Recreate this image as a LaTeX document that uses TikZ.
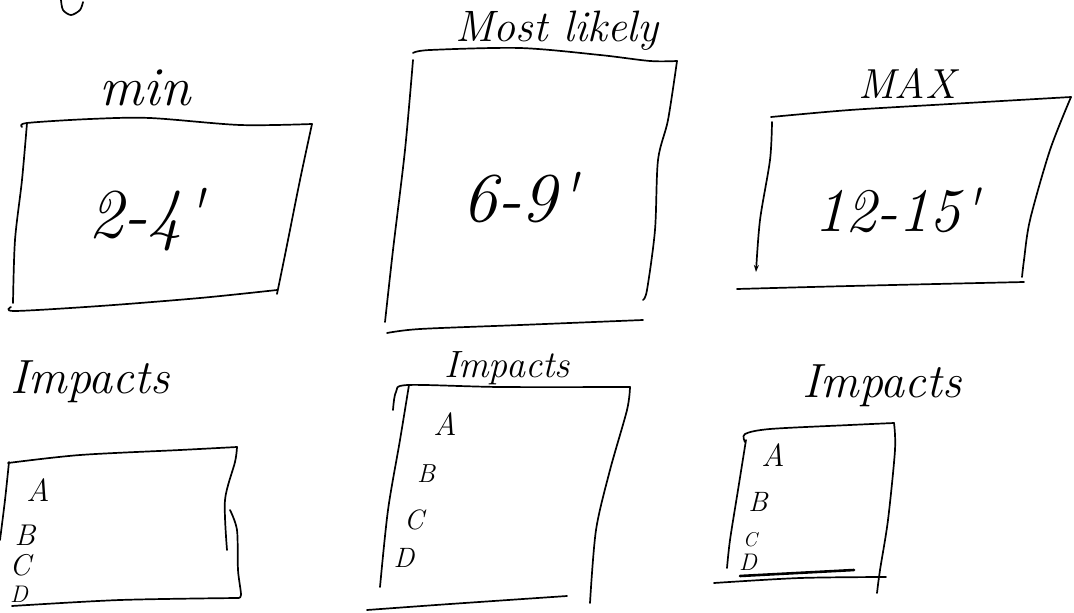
\documentclass[tikz,border=0pt]{standalone}
\usetikzlibrary{arrows.meta}
\tikzset{
  pen/.style={line width=1.7pt, line cap=round, line join=round, black},
  hand/.style={inner sep=0pt, font=\itshape},
}
\newcommand{\myprime}{\textquotesingle}
\begin{document}
\begin{tikzpicture}[x=1pt,y=-1pt]
\clip (0,0) rectangle (1074,613);
\fill[white] (0,0) rectangle (1074,613);
% fragment at top left
\draw[pen] plot[smooth] coordinates {(61,0)(63,10)(71,15)(80,10)(83,2)};
% ---------- box 1: min ----------
\node[hand, font=\itshape\fontsize{55}{55}\selectfont] (tmin) at (145,88) {min};
\draw[pen] plot[smooth] coordinates {(22,127)(27,123)(90,119)(150,118)(240,125)(312,124)};
\draw[pen] plot[smooth] coordinates {(312,124)(300,180)(286,250)(277,294)};
\draw[pen] plot[smooth] coordinates {(277,290)(200,298)(100,306)(15,311)(11,307)};
\draw[pen] plot[smooth] coordinates {(27,123)(22,180)(15,240)(13,303)};
\node[hand, font=\itshape\fontsize{70}{70}\selectfont] (vmin) at (146,220) {2-4\myprime};
% ---------- box 2: Most likely ----------
\node[hand, font=\itshape\fontsize{44}{44}\selectfont] (tml) at (557,31) {Most likely};
\draw[pen] plot[smooth] coordinates {(413,53)(430,50)(520,48)(600,55)(650,61)(677,61)};
\draw[pen] plot[smooth] coordinates {(677,61)(668,120)(658,160)(655,230)(647,290)(643,300)};
\draw[pen] plot[smooth] coordinates {(413,60)(405,150)(393,250)(385,322)};
\draw[pen] plot[smooth] coordinates {(387,333)(420,329)(520,325)(643,320)};
\node[hand, font=\itshape\fontsize{70}{70}\selectfont] (vml) at (520,198) {6-9\myprime};
% ---------- box 3: MAX ----------
\node[hand, font=\itshape\fontsize{42}{42}\selectfont] (tmax) at (907,84) {MAX};
\draw[pen] plot[smooth] coordinates {(771,117)(850,110)(950,104)(1071,97)};
\draw[pen] plot[smooth] coordinates {(1071,97)(1050,150)(1030,220)(1024,260)(1022,277)};
\draw[pen, -{Stealth[length=7pt,width=5pt]}] plot[smooth] coordinates {(772,122)(770,160)(760,220)(756,272)};
\draw[pen] plot[smooth] coordinates {(737,289)(850,286)(1024,282)};
\node[hand, font=\itshape\fontsize{62}{62}\selectfont] (vmax) at (897,210) {12-15\myprime};
% ---------- impacts 1 ----------
\node[hand, font=\itshape\fontsize{48}{48}\selectfont] (ti1) at (90,382) {Impacts};
\draw[pen] plot[smooth] coordinates {(8,463)(80,455)(180,450)(237,447)};
\draw[pen] plot[smooth] coordinates {(237,447)(235,462)(225,500)(227,550)};
\draw[pen] plot[smooth] coordinates {(230,510)(237,530)(238,570)(241,595)(237,598)};
\draw[pen] plot[smooth] coordinates {(237,598)(120,600)(12,606)};
\draw[pen] plot[smooth] coordinates {(9,462)(5,500)(0,540)};
\node[hand, font=\itshape\fontsize{32}{32}\selectfont] (a1) at (38,490) {A};
\node[hand, font=\itshape\fontsize{30}{30}\selectfont] (b1) at (25,535) {B};
\node[hand, font=\itshape\fontsize{30}{30}\selectfont] (c1) at (20,565) {C};
\node[hand, font=\itshape\fontsize{24}{24}\selectfont] (d1) at (19,594) {D};
% ---------- impacts 2 ----------
\node[hand, font=\itshape\fontsize{38}{38}\selectfont] (ti2) at (507,368) {Impacts};
\draw[pen] plot[smooth] coordinates {(393,410)(396,392)(408,385)(500,387)(630,387)};
\draw[pen] plot[smooth] coordinates {(630,387)(627,410)(610,470)(596,530)(590,603)};
\draw[pen] plot[smooth] coordinates {(409,385)(400,440)(388,510)(380,587)};
\draw[pen] plot[smooth] coordinates {(367,610)(450,604)(567,596)};
\node[hand, font=\itshape\fontsize{32}{32}\selectfont] (a2) at (445,424) {A};
\node[hand, font=\itshape\fontsize{26}{26}\selectfont] (b2) at (426,474) {B};
\node[hand, font=\itshape\fontsize{28}{28}\selectfont] (c2) at (414,520) {C};
\node[hand, font=\itshape\fontsize{28}{28}\selectfont] (d2) at (404,558) {D};
% ---------- impacts 3 ----------
\node[hand, font=\itshape\fontsize{48}{48}\selectfont] (ti3) at (882,386) {Impacts};
\draw[pen] plot[smooth] coordinates {(745,442)(745,434)(770,429)(850,425)(894,423)};
\draw[pen] plot[smooth] coordinates {(894,423)(895,450)(888,520)(880,570)(877,593)};
\draw[pen] plot[smooth] coordinates {(746,440)(738,490)(730,540)(727,568)};
\draw[pen] plot[smooth] coordinates {(714,583)(800,578)(886,577)};
\draw[line width=2.6pt, line cap=round] (740,576) -- (854,570);
\node[hand, font=\itshape\fontsize{32}{32}\selectfont] (a3) at (773,455) {A};
\node[hand, font=\itshape\fontsize{28}{28}\selectfont] (b3) at (758,502) {B};
\node[hand, font=\itshape\fontsize{20}{20}\selectfont] (c3) at (750,540) {C};
\node[hand, font=\itshape\fontsize{24}{24}\selectfont] (d3) at (748,562) {D};
\end{tikzpicture}
\end{document}
